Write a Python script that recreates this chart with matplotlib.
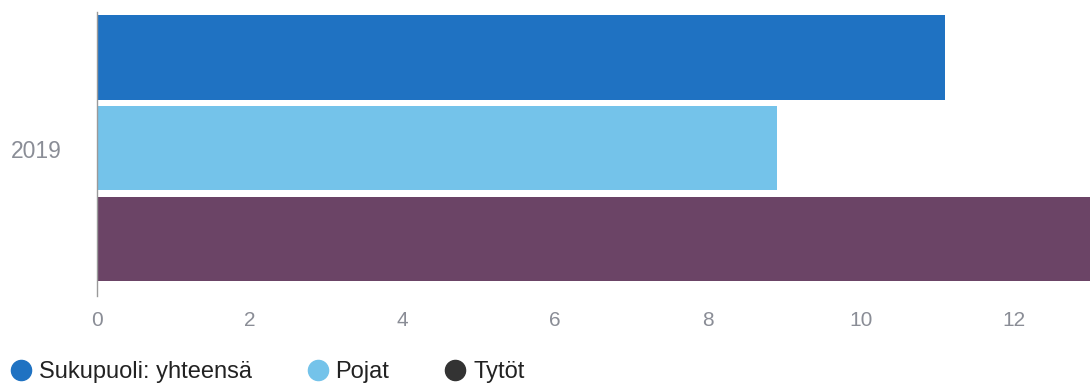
import matplotlib.pyplot as plt
from matplotlib.lines import Line2D

categories = ["2019"]
series_names = ["Sukupuoli: yhteensä", "Pojat", "Tytöt"]
values = [11.1, 8.9, 13.3]
bar_colors = ["#1f72c2", "#74c3ea", "#6b4466"]
legend_colors = ["#1f72c2", "#74c3ea", "#333333"]
x_ticks = [0, 2, 4, 6, 8, 10, 12]

plt.rcParams['font.family'] = ['Liberation Sans', 'DejaVu Sans']

fig = plt.figure(figsize=(10.9, 3.87), dpi=100)
ax = fig.add_axes([97 / 1090, 1 - 296 / 387, 1 - 97 / 1090, (296 - 12) / 387])

positions = list(range(len(series_names)))
ax.barh(positions, values, height=0.93, color=bar_colors)

ax.set_xlim(0, 13.0)
ax.set_ylim(2.63, -0.5)

for side in ("top", "right", "bottom"):
    ax.spines[side].set_visible(False)
ax.spines["left"].set_color("#9a9a9a")
ax.spines["left"].set_linewidth(1.0)

ax.set_xticks(x_ticks)
ax.set_xticklabels([str(t) for t in x_ticks])
ax.tick_params(axis="x", length=0, pad=11, labelsize=15, labelcolor="#8a8d96")
ax.set_yticks([])

fig.text(11 / 1090, 1 - 151 / 387, categories[0], fontsize=16.5, color="#8a8d96",
         ha="left", va="center")

handles = [Line2D([], [], marker="o", linestyle="none", markersize=14.5,
                  markerfacecolor=c, markeredgecolor=c) for c in legend_colors]
fig.legend(handles, series_names, loc="center left",
           bbox_to_anchor=(9 / 1090, 1 - 372 / 387), ncol=3, frameon=False,
           fontsize=17, handletextpad=0.25, columnspacing=2.3,
           handlelength=1.0, borderaxespad=0, borderpad=0,
           labelcolor="#222222")

fig.savefig("out.png", dpi=100)
